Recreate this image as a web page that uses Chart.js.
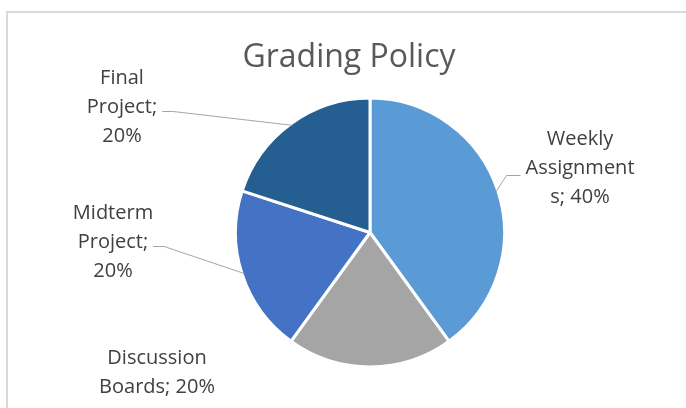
<html>
<head>
<style>
  body { margin: 0; background: #fff; }
</style>
</head>
<body>
<canvas id="myChart" width="686" height="408"></canvas>

<script src="https://cdn.jsdelivr.net/npm/chart.js"></script>

<script>
  const categories = ['Weekly Assignments', 'Discussion Boards', 'Midterm Project', 'Final Project'];
  const shares = [40, 20, 20, 20];
  const colours = ['#5b9bd5', '#a5a5a5', '#4472c4', '#255e91'];

  // how each label wraps and where its text block sits (Excel-style outside labels)
  const labelLines = [
    ['Weekly', 'Assignment', 's; 40%'],
    ['Discussion', 'Boards; 20%'],
    ['Midterm', 'Project;', '20%'],
    ['Final', 'Project;', '20%']
  ];
  const labelPos = [
    { x: 580, y: 145, side: 'right', leader: true },
    { x: 157, y: 364, side: 'left', leader: false },
    { x: 113, y: 219, side: 'left', leader: true },
    { x: 122, y: 84, side: 'left', leader: true }
  ];

  const FONT = '"Open Sans", sans-serif';

  const labelPlugin = {
    id: 'excelLabels',
    beforeDraw(chart) {
      const c = chart.ctx;
      c.save();
      c.fillStyle = '#fff';
      c.fillRect(0, 0, chart.width, chart.height);
      c.strokeStyle = '#dadada';
      c.lineWidth = 2;
      c.strokeRect(7, 12, chart.width + 10, chart.height + 10);
      c.restore();
    },
    afterDraw(chart) {
      const c = chart.ctx;
      const meta = chart.getDatasetMeta(0);
      c.save();
      c.fillStyle = '#595959';
      c.font = '32px ' + FONT;
      c.textAlign = 'center';
      c.textBaseline = 'alphabetic';
      c.fillText('Grading Policy', 349, 67);

      c.font = '20px ' + FONT;
      c.fillStyle = '#404040';
      meta.data.forEach((arc, i) => {
        const p = labelPos[i];
        const lines = labelLines[i];
        lines.forEach((t, k) => c.fillText(t, p.x, p.y + k * 29));
        if (!p.leader) return;
        const mid = (arc.startAngle + arc.endAngle) / 2;
        const ex = arc.x + Math.cos(mid) * (arc.outerRadius - 2);
        const ey = arc.y + Math.sin(mid) * (arc.outerRadius - 2);
        const half = c.measureText(lines[1]).width / 2;
        let ly, kx, tx;
        if (p.side === 'right') {
          ly = p.y + 29 + 1.5;
          tx = p.x - half - 5;
          kx = tx - 14;
        } else {
          ly = p.y + 29 - 1.5;
          tx = p.x + half + 5;
          kx = tx + 11;
        }
        c.strokeStyle = '#a6a6a6';
        c.lineWidth = 1;
        c.beginPath();
        c.moveTo(tx, ly);
        c.lineTo(kx, ly);
        c.lineTo(ex, ey);
        c.stroke();
      });
      c.restore();
    }
  };

  const ctx = document.getElementById('myChart');

  chart = new Chart(ctx, {
    type: 'pie',
    data: {
      labels: categories,
      datasets: [{
        data: shares,
        backgroundColor: colours,
        borderColor: '#ffffff',
        borderWidth: 3
      }]
    },
    options: {
      responsive: false,
      animation: false,
      layout: {
        padding: { top: 96, bottom: 39, left: 234, right: 180 }
      },
      plugins: {
        legend: { display: false },
        tooltip: { enabled: false },
        title: { display: false }
      }
    },
    plugins: [labelPlugin]
  });
</script>
</body>
</html>
